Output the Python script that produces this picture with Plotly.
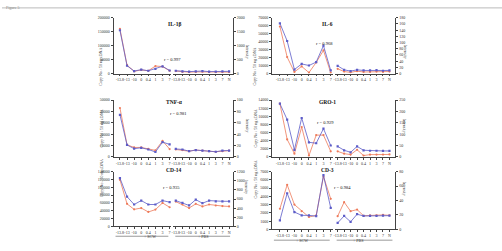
import plotly.graph_objects as go

W, H = 502, 251
def px(x): return x / W
def py(y): return 1 - y / H

# ---------------- data ----------------
scw_labels = ["-13.8", "-13", "-10", "0", "0.4", "1", "3", "7"]
pbs_labels = ["-13.8", "-13", "-10", "0", "0.4", "1", "3", "7", "N"]

il1b_copy_scw = [160000, 30000, 8000, 13000, 10000, 27000, 25000, 10000]
il1b_int_scw = [1550, 280, 90, 140, 100, 170, 260, 110]
il1b_copy_pbs = [9000, 6000, 5000, 6000, 6500, 5000, 5000, 5500, 5000]
il1b_int_pbs = [100, 80, 70, 80, 90, 70, 70, 80, 80]

il6_copy_scw = [59000, 20600, 2000, 9000, 1200, 14000, 29000, 1200]
il6_int_scw = [162, 105, 13, 31, 26, 37, 90, 10]
il6_copy_pbs = [6000, 2500, 1500, 3000, 2000, 2000, 2500, 2000, 2500]
il6_int_pbs = [25, 12, 8, 12, 10, 10, 11, 9, 10]

tnf_copy_scw = [43000, 10600, 8300, 8300, 7000, 5700, 14000, 6900]
tnf_int_scw = [74, 21, 14.4, 16, 13, 8.6, 26, 22]
tnf_copy_pbs = [6500, 6000, 5000, 6000, 5500, 5000, 4500, 5000, 5500]
tnf_int_pbs = [14, 13, 10, 12, 11, 10, 9, 11, 11]

gro_copy_scw = [13100, 4300, 800, 7360, 320, 5360, 5360, 1360]
gro_int_scw = [234, 164, 31, 171, 64, 60, 124, 50]
gro_copy_pbs = [1360, 800, 560, 1760, 320, 560, 560, 560, 600]
gro_int_pbs = [46, 29, 20, 46, 29, 27, 27, 26, 26]

cd14_copy_scw = [119000, 57600, 43600, 47000, 37000, 43000, 60000, 49000]
cd14_int_scw = [1058, 651, 480, 566, 480, 480, 566, 531]
cd14_copy_pbs = [63400, 56000, 47000, 57600, 51000, 56000, 53500, 52000, 51000]
cd14_int_pbs = [565, 515, 459, 586, 508, 565, 550, 550, 550]

cd3_copy_scw = [2500, 5400, 3000, 2200, 1500, 1700, 6400, 3700]
cd3_int_scw = [12.6, 50, 24, 19.4, 19.4, 18.3, 75, 29.7]
cd3_copy_pbs = [1600, 3300, 2200, 2400, 1650, 1700, 1700, 1750, 1700]
cd3_int_pbs = [9, 18.6, 10.5, 21, 18.6, 18.6, 18.6, 19, 19]

panel_names = ["IL-1β", "IL-6", "TNF-α", "GRO-1", "CD-14", "CD-3"]
r_values = ["r = 0.997", "r = 0.968", "r = 0.981", "r = 0.929", "r = 0.935", "r = 0.984"]
copy_max = [200000, 70000, 50000, 14000, 140000, 7000]
copy_step = [50000, 10000, 10000, 2000, 20000, 1000]
int_max = [2000, 180, 100, 250, 1200, 80]
int_step = [500, 20, 20, 50, 200, 20]

series = [
    (il1b_copy_scw, il1b_int_scw, il1b_copy_pbs, il1b_int_pbs),
    (il6_copy_scw, il6_int_scw, il6_copy_pbs, il6_int_pbs),
    (tnf_copy_scw, tnf_int_scw, tnf_copy_pbs, tnf_int_pbs),
    (gro_copy_scw, gro_int_scw, gro_copy_pbs, gro_int_pbs),
    (cd14_copy_scw, cd14_int_scw, cd14_copy_pbs, cd14_int_pbs),
    (cd3_copy_scw, cd3_int_scw, cd3_copy_pbs, cd3_int_pbs),
]

# ---------------- layout geometry ----------------
cols = [
    dict(scw=(112, 170), scw_rng=(-0.9, 7.24), pbs=(172, 232), pbs_rng=(-0.37, 8.6),
         copy_title_x=95, int_title_x=246, name_x=173),
    dict(scw=(271, 332), scw_rng=(-1.1, 7.27), pbs=(334, 395), pbs_rng=(-0.46, 8.92),
         copy_title_x=254, int_title_x=409, name_x=327),
]
rows = [[(15, 72), (15, 72)], [(99, 157), (99, 157)], [(172, 228), (172, 231)]]
name_y = [[16, 16], [101, 101], [175, 175]]
r_pos = [[(171, 53), (324, 37)], [(167, 113), (325, 122)], [(170, 193), (352, 193)]]

RED = "#ee7a5a"
BLUE = "#5c5cc8"
FONT = "Liberation Serif"
TXT = "#333333"

fig = go.Figure()
layout = dict(width=W, height=H, margin=dict(l=0, r=0, t=0, b=0),
              paper_bgcolor="white", plot_bgcolor="white", showlegend=False,
              font=dict(family=FONT, size=4, color=TXT))
annotations = []
shapes = []

def axname(kind, n):
    return kind if n == 1 else f"{kind}{n}"

for i in range(6):
    r, c = divmod(i, 2)
    col = cols[c]
    top, bot = rows[r][c]
    nx_s, nx_p = 2 * i + 1, 2 * i + 2
    ny_l, ny_r = 2 * i + 1, 2 * i + 2
    xs, xp = axname("x", nx_s), axname("x", nx_p)
    yl, yr = axname("y", ny_l), axname("y", ny_r)

    common_x = dict(showgrid=False, zeroline=False, showline=True, linecolor="#444",
                    linewidth=0.8, ticks="outside", ticklen=2, tickwidth=0.6,
                    tickcolor="#444", tickfont=dict(family=FONT, size=4, color=TXT),
                    tickangle=0)
    layout["xaxis" + ("" if nx_s == 1 else str(nx_s))] = dict(
        common_x, domain=[px(col["scw"][0]), px(col["scw"][1])], range=list(col["scw_rng"]),
        tickvals=list(range(len(scw_labels))), ticktext=scw_labels, anchor=yl)
    layout["xaxis" + str(nx_p)] = dict(
        common_x, domain=[px(col["pbs"][0]), px(col["pbs"][1])], range=list(col["pbs_rng"]),
        tickvals=list(range(len(pbs_labels))), ticktext=pbs_labels, anchor=yl)

    common_y = dict(showgrid=False, zeroline=False, showline=True, linecolor="#444",
                    linewidth=0.8, ticks="outside", ticklen=2, tickwidth=0.6,
                    tickcolor="#444", tickfont=dict(family=FONT, size=4, color=TXT),
                    tickformat="d", separatethousands=False)
    layout["yaxis" + ("" if ny_l == 1 else str(ny_l))] = dict(
        common_y, domain=[py(bot), py(top)], range=[0, copy_max[i]], dtick=copy_step[i],
        anchor=xs, side="left")
    layout["yaxis" + str(ny_r)] = dict(
        common_y, range=[0, int_max[i]], dtick=int_step[i], anchor=xp, side="right",
        overlaying=yl)

    cs, is_, cp, ip = series[i]
    mk_r = dict(color=RED, size=2.2, symbol="circle")
    mk_b = dict(color=BLUE, size=2.2, symbol="square")
    fig.add_trace(go.Scatter(x=list(range(len(cs))), y=cs, xaxis=xs, yaxis=yl, mode="lines+markers",
                             line=dict(color=RED, width=0.8), marker=mk_r))
    fig.add_trace(go.Scatter(x=list(range(len(cp))), y=cp, xaxis=xp, yaxis=yl, mode="lines+markers",
                             line=dict(color=RED, width=0.8), marker=mk_r))
    fig.add_trace(go.Scatter(x=list(range(len(is_))), y=is_, xaxis=xs, yaxis=yr, mode="lines+markers",
                             line=dict(color=BLUE, width=0.8), marker=mk_b))
    fig.add_trace(go.Scatter(x=list(range(len(ip))), y=ip, xaxis=xp, yaxis=yr, mode="lines+markers",
                             line=dict(color=BLUE, width=0.8), marker=mk_b))

    mid = (top + bot) / 2
    annotations.append(dict(x=px(col["name_x"]), y=py(name_y[r][c]), xref="paper", yref="paper",
                            text=f"<b>{panel_names[i]}</b>", showarrow=False,
                            font=dict(family=FONT, size=5.5, color="#111111")))
    rx, ry = r_pos[r][c]
    annotations.append(dict(x=px(rx), y=py(ry), xref="paper", yref="paper", text=r_values[i],
                            showarrow=False, font=dict(family=FONT, size=4.5, color="#111111")))
    annotations.append(dict(x=px(col["copy_title_x"]), y=py(mid), xref="paper", yref="paper",
                            text="Copy No / 50 ng cDNA", textangle=-90, showarrow=False,
                            font=dict(family=FONT, size=4, color=TXT)))
    annotations.append(dict(x=px(col["int_title_x"]), y=py(mid - 3), xref="paper", yref="paper",
                            text="Intensity", textangle=90, showarrow=False,
                            font=dict(family=FONT, size=4, color=TXT)))

    if r == 2:
        line_y = bot + 10 if c == 0 else bot + 11
        text_y = bot + 15 if c == 0 else bot + 16
        for (a, b), lab in ((col["scw"], "+ SCW"), (col["pbs"], "+ PBS")):
            shapes.append(dict(type="line", xref="paper", yref="paper",
                               x0=px(a + 2), x1=px(b - 3), y0=py(line_y), y1=py(line_y),
                               line=dict(color="#555", width=0.6)))
            annotations.append(dict(x=px((a + b) / 2), y=py(text_y), xref="paper", yref="paper",
                                    text=lab, showarrow=False,
                                    font=dict(family=FONT, size=4, color=TXT)))

# top rule and figure label
shapes.append(dict(type="line", xref="paper", yref="paper", x0=0, x1=1, y0=py(5), y1=py(5),
                   line=dict(color="#bbbbbb", width=1)))
annotations.append(dict(x=px(2), y=py(0.5), xref="paper", yref="paper", text="Figure 5",
                        xanchor="left", yanchor="top", showarrow=False,
                        font=dict(family=FONT, size=4, color="#888")))

layout["annotations"] = annotations
layout["shapes"] = shapes
fig.update_layout(**layout)
fig.write_html("out.html")
